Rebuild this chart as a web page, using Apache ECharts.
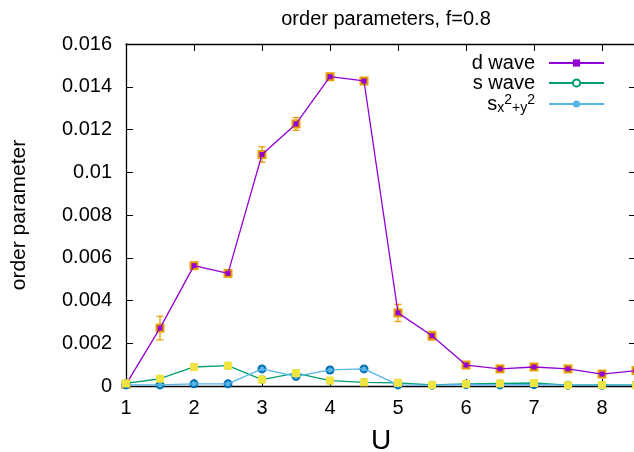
<!DOCTYPE html>
<html>
<head>
<meta charset="utf-8">
<script src="https://cdn.jsdelivr.net/npm/echarts@6/dist/echarts.min.js"></script>
<style>
  html, body { margin: 0; padding: 0; background: #fff; }
  #chart { width: 634px; height: 452px; }
</style>
</head>
<body>
<div id="chart"></div>
<script>
// interaction strength U
const U = [1, 1.5, 2, 2.5, 3, 3.5, 4, 4.5, 5, 5.5, 6, 6.5, 7, 7.5, 8, 8.5]

// d wave and its error bars
const dWave = [0.00008, 0.00271, 0.00563, 0.00527, 0.01083, 0.01226, 0.01447, 0.01427,
  0.00342, 0.00235, 0.00098, 0.0008, 0.00089, 0.0008, 0.00056, 0.00072]
const dErr = [0.00003, 0.00055, 0.0001, 0.00005, 0.00036, 0.0003, 0.00004, 0.00004,
  0.0004, 0.0002, 0.00005, 0.00004, 0.00004, 0.00004, 0.00004, 0.00004]

// s wave
const sWave = [0.00012, 0.00034, 0.00089, 0.00095, 0.0003, 0.0006, 0.00025, 0.00017,
  0.00015, 0.00005, 0.0001, 0.00012, 0.00014, 0.00004, 0.00005, 0.00004]

// s_{x^2+y^2}
const sxy = [0.00005, 0.00005, 0.0001, 0.0001, 0.0008, 0.00045, 0.00075, 0.0008,
  0.00005, 0.00004, 0.00007, 0.00005, 0.00007, 0.00004, 0.00004, 0.00004]

const yTicks = [0, 0.002, 0.004, 0.006, 0.008, 0.01, 0.012, 0.014, 0.016]

// gnuplot default colours
const C_PURPLE = '#9400d3'
const C_GREEN = '#009e73'
const C_LBLUE = '#56b4e9'
const C_ORANGE = '#e69f00'
const C_YELLOW = '#f0e442'
const C_BLUE = '#0072b2'

const FONT = 'Liberation Sans'

const pairs = arr => U.map((u, i) => [u, arr[i]])

function errorBars(params, api) {
  const x = api.value(0), y = api.value(1), e = api.value(2)
  const c = api.coord([x, y])
  const hi = api.coord([x, y + e])
  const lo = api.coord([x, y - e])
  const cap = 3.5
  const st = { stroke: C_ORANGE, lineWidth: 1.3 }
  return {
    type: 'group',
    children: [
      { type: 'line', shape: { x1: c[0], y1: hi[1], x2: c[0], y2: lo[1] }, style: st },
      { type: 'line', shape: { x1: c[0] - cap, y1: hi[1], x2: c[0] + cap, y2: hi[1] }, style: st },
      { type: 'line', shape: { x1: c[0] - cap, y1: lo[1], x2: c[0] + cap, y2: lo[1] }, style: st },
      { type: 'rect', shape: { x: c[0] - 4.5, y: c[1] - 4.5, width: 9, height: 9 }, style: { fill: C_ORANGE } }
    ]
  }
}

const axisBase = {
  type: 'value',
  axisLine: { show: true, onZero: false, lineStyle: { color: '#000', width: 1.3 } },
  axisTick: { show: true, inside: true, length: 7, lineStyle: { color: '#000' } },
  splitLine: { show: false }
}

const X_MIN = 1, X_MAX = 8.5
const Y_MIN = 0, Y_MAX = 0.016

const chart = echarts.init(document.getElementById('chart'))
chart.setOption({
  animation: false,
  backgroundColor: '#fff',
  title: {
    text: 'order parameters, f=0.8',
    left: 381, top: 4, textAlign: 'center',
    textStyle: { fontFamily: FONT, fontSize: 20, fontWeight: 'normal', color: '#000' }
  },
  grid: { left: 126, top: 44, width: 510, height: 342, containLabel: false, outerBoundsMode: 'none' },
  legend: {
    orient: 'vertical',
    right: 24, top: 48,
    align: 'right',
    itemWidth: 55, itemHeight: 9, itemGap: 0,
    data: ['d wave', 's wave', 'sxy'],
    textStyle: {
      fontFamily: FONT, fontSize: 20, color: '#000', padding: [0, 9, 0, 0],
      rich: {
        b: { fontFamily: FONT, fontSize: 20, color: '#000', lineHeight: 22 },
        sub: { fontFamily: FONT, fontSize: 14, color: '#000', verticalAlign: 'bottom', lineHeight: 14 },
        sup: { fontFamily: FONT, fontSize: 14, color: '#000', verticalAlign: 'top', lineHeight: 16 }
      }
    },
    formatter: name => name === 'sxy' ? '{b|s}{sub|x}{sup|2}{sub|+y}{sup|2}' : name
  },
  xAxis: [
    Object.assign({}, axisBase, {
      min: X_MIN, max: X_MAX, interval: 1, position: 'bottom',
      name: 'U', nameLocation: 'middle', nameGap: 41,
      nameTextStyle: { fontFamily: FONT, fontSize: 28, color: '#000' },
      axisLabel: {
        fontFamily: FONT, fontSize: 20, color: '#000', margin: 12,
        formatter: v => Number.isInteger(v) ? String(v) : ''
      }
    }),
    Object.assign({}, axisBase, {
      min: X_MIN, max: X_MAX, interval: 1, position: 'top',
      axisLabel: { show: false }
    })
  ],
  yAxis: [
    Object.assign({}, axisBase, {
      min: Y_MIN, max: Y_MAX, interval: 0.002, position: 'left',
      name: 'order parameter', nameLocation: 'middle', nameGap: 96, nameRotate: 90,
      nameTextStyle: { fontFamily: FONT, fontSize: 21, color: '#000' },
      axisLabel: {
        fontFamily: FONT, fontSize: 20, color: '#000', margin: 14,
        formatter: v => {
          const t = yTicks.find(k => Math.abs(k - v) < 1e-9)
          return t === undefined ? '' : String(t)
        }
      }
    }),
    Object.assign({}, axisBase, {
      min: Y_MIN, max: Y_MAX, interval: 0.002, position: 'right',
      axisLabel: { show: false }
    })
  ],
  series: [
    {
      name: 'd err', type: 'custom', renderItem: errorBars, clip: false,
      data: U.map((u, i) => [u, dWave[i], dErr[i]]), z: 2
    },
    {
      name: 'd wave', type: 'line', data: pairs(dWave),
      symbol: 'rect', symbolSize: 5,
      lineStyle: { color: C_PURPLE, width: 1.3 },
      itemStyle: { color: C_PURPLE },
      z: 3
    },
    {
      name: 's wave', type: 'line', data: pairs(sWave),
      symbol: 'emptyCircle', symbolSize: 6,
      lineStyle: { color: C_GREEN, width: 1.3 },
      itemStyle: { color: C_GREEN, borderColor: C_GREEN, borderWidth: 1.3 },
      z: 3
    },
    {
      name: 's err', type: 'scatter', data: pairs(sWave),
      symbol: 'rect', symbolSize: 8,
      itemStyle: { color: C_YELLOW, opacity: 1 },
      z: 4
    },
    {
      name: 'sxy err', type: 'scatter', data: pairs(sxy),
      symbol: 'circle', symbolSize: 9,
      itemStyle: { color: C_BLUE, opacity: 1 },
      z: 2
    },
    {
      name: 'sxy', type: 'line', data: pairs(sxy),
      symbol: 'circle', symbolSize: 5,
      lineStyle: { color: C_LBLUE, width: 1.3 },
      itemStyle: { color: C_LBLUE },
      z: 3
    }
  ]
})
</script>
</body>
</html>
